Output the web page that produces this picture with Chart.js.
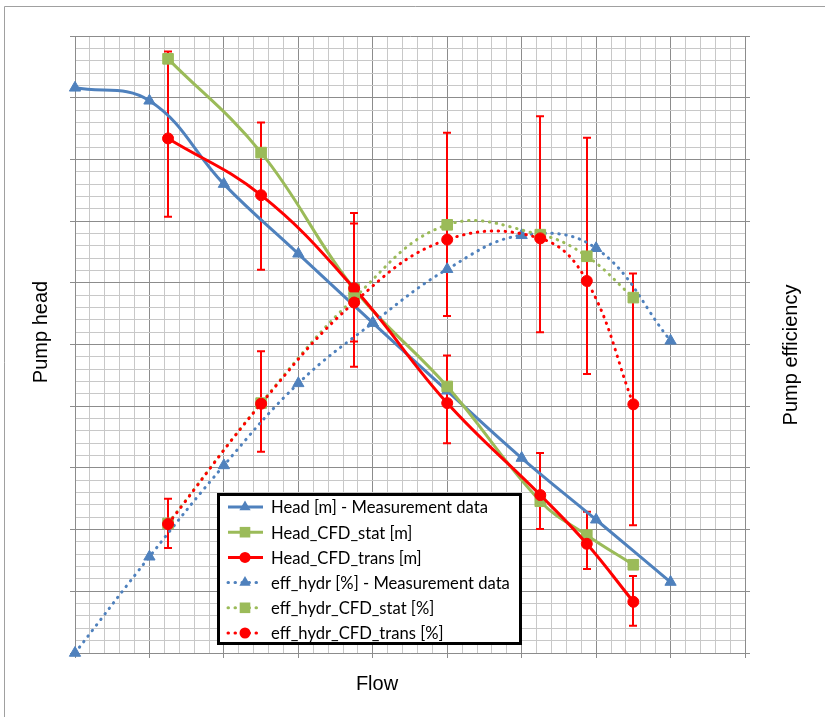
<!DOCTYPE html>
<html>
<head>
<meta charset="utf-8">
<script src="https://cdn.jsdelivr.net/npm/chart.js@4.4.0/dist/chart.umd.min.js"></script>
<style>
  html, body { margin: 0; padding: 0; background: #fff; }
  #wrap { width: 825px; height: 717px; }
</style>
</head>
<body>
<div id="wrap"><canvas id="pumpChart" width="825" height="717"></canvas></div>
<script>
// Flow values (grid units, no tick labels on the original)
const flowMeas = [0, 1, 2, 3, 4, 5, 6, 7, 8];
const flowCfd = [1.25, 2.5, 3.75, 5, 6.25, 6.875, 7.5];

// Pump head
const headMeas = [9.16, 8.95, 7.60, 6.47, 5.35, 4.25, 3.16, 2.16, 1.15];
const headStat = [9.63, 8.11, 5.90, 4.32, 2.46, 1.91, 1.43];
const headTrans = [8.34, 7.42, 5.91, 4.05, 2.56, 1.77, 0.83];
const headTransErrPlus = [1.41, 1.18, 1.22, 0.77, 0.68, 0.52, 0.42];
const headTransErrMinus = [1.27, 1.21, 1.27, 0.65, 0.55, 0.41, 0.39];

// Pump efficiency
const effMeas = [0, 1.56, 3.04, 4.37, 5.35, 6.22, 6.77, 6.56, 5.06];
const effStat = [2.10, 4.05, 5.75, 6.94, 6.78, 6.43, 5.76];
const effTrans = [2.09, 4.04, 5.68, 6.70, 6.72, 6.03, 4.03];
const effTransErrPlus = [0.41, 0.85, 1.28, 1.73, 1.98, 2.32, 2.12];
const effTransErrMinus = [0.39, 0.78, 0.63, 1.24, 1.52, 1.51, 1.96];

const blue = "#4F81BD";
const green = "#9BBB59";
const red = "#FF0000";
const dotted = [0.5, 6.5];

function toPoints(xs, ys) {
  return xs.map((x, i) => ({ x: x, y: ys[i] }));
}

function isMajor(v) {
  return Math.abs(v - Math.round(v)) < 1e-6;
}

function makeSeries(label, xs, ys, color, style, radius, axis, dash, order) {
  return {
    label: label,
    data: toPoints(xs, ys),
    yAxisID: axis,
    borderColor: color,
    backgroundColor: color,
    borderWidth: 3,
    borderDash: dash,
    borderCapStyle: dash.length ? "round" : "butt",
    pointStyle: style,
    pointRadius: radius,
    pointBackgroundColor: color,
    pointBorderColor: color,
    pointBorderWidth: 1,
    tension: 0.4,
    clip: false,
    order: order,
  };
}

const datasets = [
  makeSeries("Head [m] - Measurement data", flowMeas, headMeas, blue, "triangle", 6.5, "y", [], 6),
  makeSeries("Head_CFD_stat [m]", flowCfd, headStat, green, "rect", 7.5, "y", [], 5),
  makeSeries("Head_CFD_trans [m]", flowCfd, headTrans, red, "circle", 5.5, "y", [], 4),
  makeSeries("eff_hydr [%] - Measurement data", flowMeas, effMeas, blue, "triangle", 6.5, "y2", dotted, 3),
  makeSeries("eff_hydr_CFD_stat [%]", flowCfd, effStat, green, "rect", 7.5, "y2", dotted, 2),
  makeSeries("eff_hydr_CFD_trans [%]", flowCfd, effTrans, red, "circle", 5.5, "y2", dotted, 1),
];
datasets[2].errPlus = headTransErrPlus;
datasets[2].errMinus = headTransErrMinus;
datasets[5].errPlus = effTransErrPlus;
datasets[5].errMinus = effTransErrMinus;

// Error bars, drawn under the markers
const errorBarPlugin = {
  id: "errorBars",
  beforeDatasetsDraw(chart) {
    const ctx = chart.ctx;
    const xScale = chart.scales.x;
    chart.data.datasets.forEach((ds) => {
      if (!ds.errPlus) return;
      const yScale = chart.scales[ds.yAxisID];
      ctx.save();
      ctx.strokeStyle = ds.borderColor;
      ctx.lineWidth = 2;
      ds.data.forEach((p, j) => {
        const px = Math.round(xScale.getPixelForValue(p.x));
        const top = yScale.getPixelForValue(p.y + ds.errPlus[j]);
        const bottom = yScale.getPixelForValue(p.y - ds.errMinus[j]);
        ctx.beginPath();
        ctx.moveTo(px, top);
        ctx.lineTo(px, bottom);
        ctx.moveTo(px - 4, top);
        ctx.lineTo(px + 4, top);
        ctx.moveTo(px - 4, bottom);
        ctx.lineTo(px + 4, bottom);
        ctx.stroke();
      });
      ctx.restore();
    });
  },
};

function drawMarker(ctx, style, x, y, r, color) {
  ctx.fillStyle = color;
  ctx.beginPath();
  if (style === "triangle") {
    for (let k = 0; k < 3; k++) {
      const a = (k * 2 * Math.PI) / 3;
      const fx = x + Math.sin(a) * r;
      const fy = y - Math.cos(a) * r;
      if (k === 0) ctx.moveTo(fx, fy);
      else ctx.lineTo(fx, fy);
    }
    ctx.closePath();
  } else if (style === "rect") {
    const s = r * Math.SQRT1_2;
    ctx.rect(x - s, y - s, 2 * s, 2 * s);
  } else {
    ctx.arc(x, y, r, 0, 2 * Math.PI);
  }
  ctx.fill();
}

// Legend box inside the plot, axis titles and outer frame
const decorPlugin = {
  id: "decor",
  afterDraw(chart) {
    const ctx = chart.ctx;
    ctx.save();

    // outer frame (only top and left edges visible)
    ctx.strokeStyle = "#a0a0a0";
    ctx.lineWidth = 1;
    ctx.beginPath();
    ctx.moveTo(4.5, 730);
    ctx.lineTo(4.5, 6.5);
    ctx.lineTo(830, 6.5);
    ctx.stroke();

    // axis titles
    ctx.fillStyle = "#000";
    ctx.font = "20px 'Liberation Sans', Arial, sans-serif";
    ctx.textAlign = "center";
    ctx.textBaseline = "alphabetic";
    ctx.fillText("Flow", 377, 690);
    ctx.save();
    ctx.translate(47, 332);
    ctx.rotate(-Math.PI / 2);
    ctx.fillText("Pump head", 0, 0);
    ctx.restore();
    ctx.save();
    ctx.translate(797, 355);
    ctx.rotate(-Math.PI / 2);
    ctx.fillText("Pump efficiency", 0, 0);
    ctx.restore();

    // legend
    ctx.fillStyle = "#fff";
    ctx.fillRect(217, 493, 305, 152);
    ctx.strokeStyle = "#000";
    ctx.lineWidth = 3;
    ctx.strokeRect(218.5, 494.5, 302, 149);

    ctx.font = "16.6px Lato, 'Open Sans', sans-serif";
    ctx.textAlign = "left";
    ctx.textBaseline = "middle";
    chart.data.datasets.forEach((ds, i) => {
      const y = 507 + i * 25.2;
      ctx.save();
      ctx.strokeStyle = ds.borderColor;
      ctx.lineWidth = 3;
      ctx.lineCap = ds.borderCapStyle;
      ctx.setLineDash(ds.borderDash);
      ctx.beginPath();
      ctx.moveTo(228, y);
      ctx.lineTo(263, y);
      ctx.stroke();
      ctx.restore();
      drawMarker(ctx, ds.pointStyle, 245, y, ds.pointRadius, ds.borderColor);
      ctx.fillStyle = "#000";
      ctx.fillText(ds.label, 271, y + 1);
    });

    ctx.restore();
  },
};

function gridColor(c) {
  return c.tick && isMajor(c.tick.value) ? "#8c8c8c" : "#c8c8c8";
}
function tickColor(c) {
  return c.tick && isMajor(c.tick.value) ? "#8c8c8c" : "rgba(0,0,0,0)";
}

const ctx = document.getElementById("pumpChart").getContext("2d");
const pumpChart = new Chart(ctx, {
  type: "line",
  data: { datasets: datasets },
  options: {
    responsive: false,
    animation: false,
    layout: { padding: { top: 36, left: 0, right: 0, bottom: 0 } },
    plugins: {
      legend: { display: false },
      tooltip: { enabled: false },
    },
    scales: {
      x: {
        type: "linear",
        min: 0,
        max: 9,
        ticks: { display: false, stepSize: 0.2, autoSkip: false, maxTicksLimit: 200 },
        grid: { color: gridColor, tickColor: tickColor, tickLength: 5, lineWidth: 1 },
        border: { color: "#8c8c8c" },
        afterFit: (s) => { s.height = 64; },
      },
      y: {
        position: "left",
        min: 0,
        max: 10,
        ticks: { display: false, stepSize: 0.2, autoSkip: false, maxTicksLimit: 200 },
        grid: { color: gridColor, tickColor: tickColor, tickLength: 5, lineWidth: 1 },
        border: { color: "#8c8c8c" },
        afterFit: (s) => { s.width = 75; },
      },
      y2: {
        position: "right",
        min: 0,
        max: 10,
        ticks: { display: false, stepSize: 1, autoSkip: false },
        grid: { drawOnChartArea: false, tickColor: "#8c8c8c", tickLength: 5 },
        border: { color: "#8c8c8c" },
        afterFit: (s) => { s.width = 80; },
      },
    },
  },
  plugins: [errorBarPlugin, decorPlugin],
});
</script>
</body>
</html>
